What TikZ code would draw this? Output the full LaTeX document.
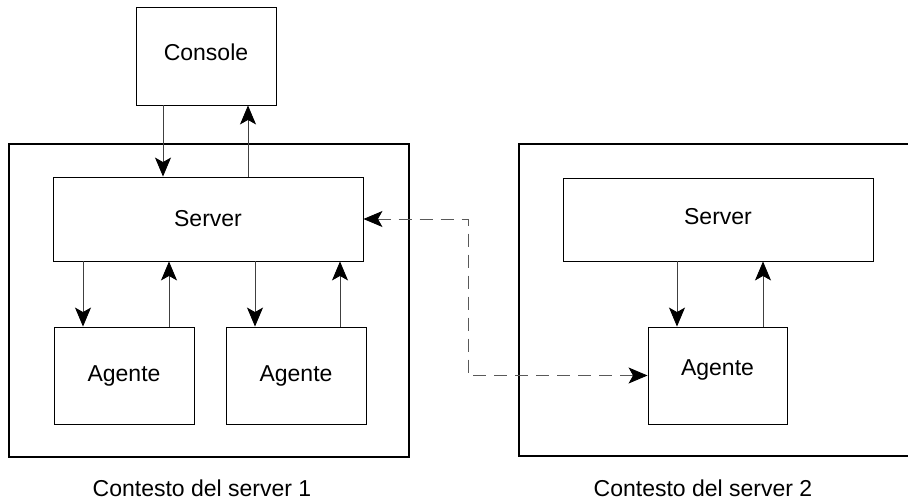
\documentclass[tikz,border=0pt]{standalone}
\usepackage{fontspec}
\setmainfont{Liberation Sans}
\usetikzlibrary{arrows.meta}
\begin{document}
\begin{tikzpicture}[x=1pt,y=-1pt,
  box/.style={draw=black,line width=0.9pt,rectangle,inner sep=0pt,font=\fontsize{23}{28}\selectfont},
  outerbox/.style={draw=black,line width=2.4pt,rectangle,inner sep=0pt},
  arr/.style={draw=black!75,line width=0.9pt,-{Stealth[length=19pt,width=16pt,inset=4.5pt,color=black]}},
  darr/.style={draw=black!65,line width=0.9pt,dash pattern=on 13pt off 8pt,
     {Stealth[length=19pt,width=16pt,inset=4.5pt,color=black]}-{Stealth[length=19pt,width=16pt,inset=4.5pt,color=black]}},
  lbl/.style={font=\fontsize{23}{28}\selectfont,inner sep=0pt}]
\useasboundingbox (0,0) rectangle (908,501);
\clip (0,0) rectangle (908,501);
\fill[white] (0,0) rectangle (908,501);
% outer contexts
\node[outerbox,minimum width=400pt,minimum height=313pt] (outer1) at (209,300.5) {};
\node[outerbox,minimum width=400pt,minimum height=312pt] (outer2) at (719,300) {};
% boxes
\node[box,minimum width=140pt,minimum height=98pt] (console) at (206,56) {};
\node[lbl] (consoletxt) at ([yshift=4pt]console.center) {Console};
\node[box,minimum width=310pt,minimum height=84pt] (server1) at (208,219) {Server};
\node[box,minimum width=140pt,minimum height=97pt] (agent1a) at (124,375.5) {Agente};
\node[box,minimum width=140pt,minimum height=97pt] (agent1b) at (296,375.5) {Agente};
\node[box,minimum width=310pt,minimum height=83pt] (server2) at (718,219.5) {};
\node[lbl] (server2txt) at ([yshift=3pt]server2.center) {Server};
\node[box,minimum width=139pt,minimum height=97pt] (agent2) at (717.5,375.5) {};
\node[lbl] (agent2txt) at ([yshift=6pt]agent2.center) {Agente};
% labels
\node[lbl] (ctx1) at (202,488) {Contesto del server 1};
\node[lbl] (ctx2) at (703,488) {Contesto del server 2};
% console <-> server1
\draw[arr] ([xshift=-43pt]console.south) -- ([xshift=-43pt]console.south |- server1.north);
\draw[arr] ([xshift=42pt]console.south |- server1.north) -- ([xshift=42pt]console.south);
% server1 <-> agents
\draw[arr] ([xshift=-41pt]agent1a.north |- server1.south) -- ([xshift=-41pt]agent1a.north);
\draw[arr] ([xshift=45pt]agent1a.north) -- ([xshift=45pt]agent1a.north |- server1.south);
\draw[arr] ([xshift=-41pt]agent1b.north |- server1.south) -- ([xshift=-41pt]agent1b.north);
\draw[arr] ([xshift=44pt]agent1b.north) -- ([xshift=44pt]agent1b.north |- server1.south);
% server2 <-> agent2
\draw[arr] ([xshift=-40.5pt]agent2.north |- server2.south) -- ([xshift=-40.5pt]agent2.north);
\draw[arr] ([xshift=45.5pt]agent2.north) -- ([xshift=45.5pt]agent2.north |- server2.south);
% dashed link
\coordinate (dc) at (468,220);
\draw[darr] (server1.east) -- (server1.east -| dc) |- (agent2.west);
\end{tikzpicture}
\end{document}
